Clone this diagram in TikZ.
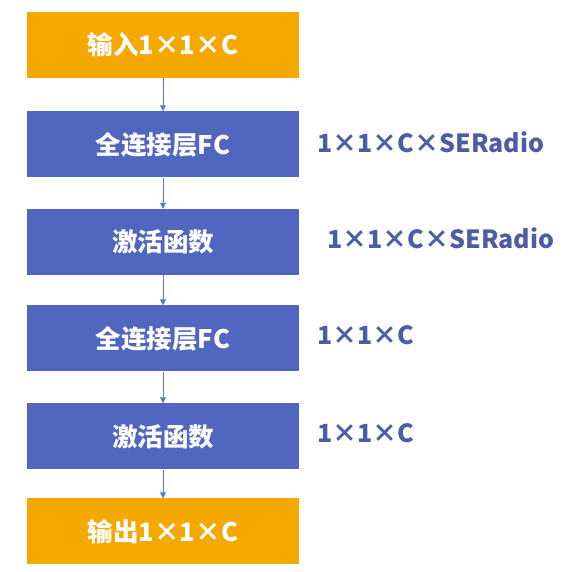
\documentclass[tikz,border=0pt]{standalone}
\usepackage{fontspec}
\setmainfont{Noto Sans CJK SC}
\usetikzlibrary{arrows.meta}
\definecolor{boxorange}{HTML}{F5A800}
\definecolor{boxblue}{HTML}{5066BF}
\definecolor{labelblue}{HTML}{4B5DA6}
\definecolor{arrowblue}{HTML}{5C7DB3}
\begin{document}
\begin{tikzpicture}[x=1pt,y=1pt,
  box/.style={minimum width=272pt,minimum height=66pt,inner sep=0pt,text=white,font=\fontsize{25.5}{30}\selectfont\bfseries},
  inbox/.style={box,fill=boxorange},
  layerbox/.style={box,fill=boxblue},
  dimlabel/.style={anchor=west,inner sep=0pt,text=labelblue,font=\fontsize{25}{30}\selectfont\bfseries},
  conn/.style={draw=arrowblue,line width=0.8pt,-{Triangle[length=6pt,width=6pt]}}]
\useasboundingbox (0,0) rectangle (566,572);
\node[inbox]    (in)  at (163,572-45)    {输入1×1×C};
\node[layerbox] (fc1) at (163,572-144.5) {全连接层FC};
\node[layerbox] (act1) at (163,572-242)  {激活函数};
\node[layerbox] (fc2) at (163,572-338.5) {全连接层FC};
\node[layerbox] (act2) at (163,572-436.5) {激活函数};
\node[inbox]    (out) at (163,572-531.5) {输出1×1×C};
\draw[conn] (in) -- (fc1);
\draw[conn] (fc1) -- (act1);
\draw[conn] (act1) -- (fc2);
\draw[conn] (fc2) -- (act2);
\draw[conn] (act2) -- (out);
\node[dimlabel] (l1) at (317,572-142) {1×1×C×SERadio};
\node[dimlabel] (l2) at (327,572-238) {1×1×C×SERadio};
\node[dimlabel] (l3) at (317,572-335) {1×1×C};
\node[dimlabel] (l4) at (317,572-433) {1×1×C};
\end{tikzpicture}
\end{document}
